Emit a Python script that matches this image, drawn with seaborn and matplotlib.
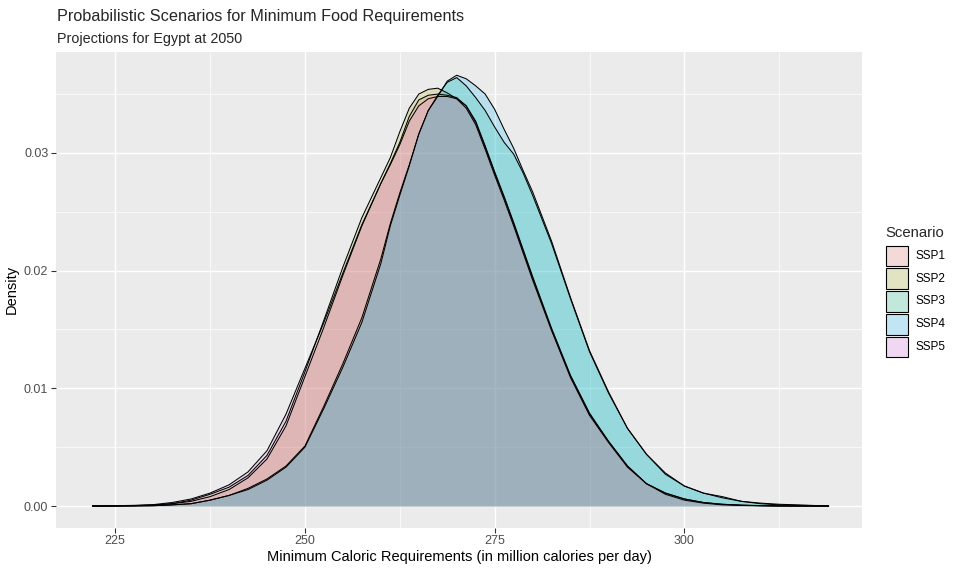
import numpy as np
import pandas as pd
import seaborn as sns
import matplotlib
matplotlib.use("Agg")
import matplotlib.pyplot as plt
from matplotlib.patches import Rectangle
from matplotlib.colors import to_rgb

# ---------------- data ----------------
scenarios = ["SSP1", "SSP2", "SSP3", "SSP4", "SSP5"]
colors = ["#F8766D", "#A3A500", "#00BF7D", "#00B0F6", "#E76BF3"]

x_grid = [222, 225, 227.5, 230, 232.5, 235, 237.5, 240, 242.5, 245,
          247.5, 250, 252.5, 255, 257.5, 260,
          261.25, 262.5, 263.75, 265, 266.25, 267.5, 268.75, 270,
          271.25, 272.5, 273.75, 275, 276.25, 277.5, 278.75, 280,
          282.5, 285, 287.5, 290, 292.5, 295, 297.5, 300, 302.5, 305,
          307.5, 310, 312.5, 315, 319]

ssp1 = [0, 0.00002, 0.00004, 0.00008, 0.0002, 0.0004, 0.0008, 0.0014, 0.0024, 0.0040,
        0.0068, 0.0110, 0.0152, 0.0196, 0.0238, 0.0274,
        0.0291, 0.0309, 0.0331, 0.0345, 0.0349, 0.0350, 0.0349, 0.0347,
        0.0340, 0.0326, 0.0305, 0.0283, 0.0262, 0.0240, 0.0217, 0.0194,
        0.0150, 0.0110, 0.0078, 0.0055, 0.0034, 0.0019, 0.0011, 0.0006, 0.0003, 0.00015,
        0.00008, 0.00004, 0.00001, 0, 0]
ssp2 = [0, 0.00001, 0.00003, 0.00008, 0.0002, 0.0005, 0.0010, 0.0016, 0.0026, 0.0043,
        0.0072, 0.0114, 0.0158, 0.0203, 0.0245, 0.0279,
        0.0296, 0.0318, 0.0338, 0.0350, 0.0354, 0.0355, 0.0351, 0.0346,
        0.0338, 0.0324, 0.0303, 0.0281, 0.0260, 0.0238, 0.0215, 0.0192,
        0.0149, 0.0109, 0.0077, 0.0054, 0.0033, 0.0019, 0.0011, 0.0006, 0.0003, 0.00015,
        0.00007, 0.00003, 0.00001, 0, 0]
ssp3 = [0, 0, 0.00001, 0.00003, 0.0001, 0.0002, 0.0005, 0.0009, 0.0015, 0.0023,
        0.0034, 0.0051, 0.0085, 0.0121, 0.0160, 0.0210,
        0.0240, 0.0266, 0.0290, 0.0316, 0.0336, 0.0349, 0.0360, 0.0364,
        0.0357, 0.0347, 0.0336, 0.0322, 0.0309, 0.0299, 0.0283, 0.0264,
        0.0223, 0.0176, 0.0131, 0.0096, 0.0066, 0.0044, 0.0027, 0.0017, 0.0011, 0.0007,
        0.0004, 0.0002, 0.0001, 0.00005, 0]
ssp4 = [0, 0, 0.00001, 0.00003, 0.0001, 0.0002, 0.0005, 0.0009, 0.0014, 0.0022,
        0.0033, 0.0050, 0.0083, 0.0118, 0.0156, 0.0206,
        0.0238, 0.0264, 0.0289, 0.0316, 0.0336, 0.0348, 0.0361, 0.0366,
        0.0363, 0.0357, 0.0350, 0.0337, 0.0320, 0.0304, 0.0285, 0.0267,
        0.0225, 0.0177, 0.0132, 0.0097, 0.0066, 0.0044, 0.0028, 0.0017, 0.0011, 0.0008,
        0.0004, 0.00025, 0.00015, 0.0001, 0]
ssp5 = [0, 0.00003, 0.00006, 0.00012, 0.0003, 0.0006, 0.0011, 0.0018, 0.0029, 0.0047,
        0.0078, 0.0117, 0.0156, 0.0198, 0.0239, 0.0274,
        0.0290, 0.0307, 0.0327, 0.0340, 0.0346, 0.0348, 0.0348, 0.0346,
        0.0340, 0.0327, 0.0306, 0.0284, 0.0263, 0.0241, 0.0218, 0.0195,
        0.0151, 0.0111, 0.0079, 0.0055, 0.0034, 0.0019, 0.0010, 0.0005, 0.00025, 0.0001,
        0.00005, 0.00002, 0, 0, 0]

x_ticks = [225, 250, 275, 300]
y_ticks = [0.00, 0.01, 0.02, 0.03]
y_tick_labels = ["0.00", "0.01", "0.02", "0.03"]

title = "Probabilistic Scenarios for Minimum Food Requirements"
subtitle = "Projections for Egypt at 2050"
x_label = "Minimum Caloric Requirements (in million calories per day)"
y_label = "Density"
legend_title = "Scenario"

series = [ssp1, ssp2, ssp3, ssp4, ssp5]
df = pd.concat([pd.DataFrame({"x": x_grid, "density": s, "Scenario": name})
                for name, s in zip(scenarios, series)], ignore_index=True)

# ---------------- style ----------------
sns.set_theme(style="darkgrid", rc={
    "axes.facecolor": "#EBEBEB",
    "grid.color": "white",
    "axes.edgecolor": "#EBEBEB",
})
plt.rcParams["font.family"] = ["Liberation Sans", "DejaVu Sans"]

W, H = 961, 573
fig = plt.figure(figsize=(W / 100, H / 100), dpi=100)
ax = fig.add_axes([56 / W, 1 - 527.7 / H, (862 - 56) / W, (527.7 - 51.7) / H])

alpha = 0.2
for name, col in zip(scenarios, colors):
    sub = df[df["Scenario"] == name]
    ax.fill_between(sub["x"], sub["density"], 0, color=col, alpha=alpha,
                    linewidth=0, zorder=2)
sns.lineplot(data=df, x="x", y="density", hue="Scenario",
             palette=["black"] * 5, linewidth=0.75, legend=False, ax=ax,
             zorder=3, sort=True, estimator=None)

ax.set_xlim(217.2, 323.4)
ax.set_ylim(-0.00184, 0.0386)
ax.set_xticks(x_ticks)
ax.set_yticks(y_ticks)
ax.set_yticklabels(y_tick_labels)
ax.set_xticks([237.5, 262.5, 287.5, 312.5], minor=True)
ax.set_yticks([0.005, 0.015, 0.025, 0.035], minor=True)
ax.grid(which="major", color="white", linewidth=1.05)
ax.grid(which="minor", color="white", linewidth=0.5)
ax.set_axisbelow(True)
for sp in ax.spines.values():
    sp.set_visible(False)
ax.tick_params(axis="both", which="major", length=3.5, width=0.8, color="#333333",
               labelcolor="#4D4D4D", labelsize=9, pad=2, bottom=True, left=True)
ax.tick_params(axis="both", which="minor", length=0)

ax.set_xlabel(x_label, fontsize=10.5, color="black", labelpad=2)
ax.set_ylabel(y_label, fontsize=10.5, color="black", labelpad=4)

fig.text(57 / W, 1 - 20.7 / H, title, fontsize=11.7, va="baseline", ha="left")
fig.text(57 / W, 1 - 42.7 / H, subtitle, fontsize=10.4, va="baseline", ha="left")

# ---------------- legend ----------------
fig.text(885.5 / W, 1 - 237 / H, legend_title, fontsize=10.7, va="baseline", ha="left")
key_bg = np.array(to_rgb("#F2F2F2"))
top0, step, kw, kh = 245.5, 22.85, 21.5, 20.5
for i, (name, col) in enumerate(zip(scenarios, colors)):
    fc = alpha * np.array(to_rgb(col)) + (1 - alpha) * key_bg
    y_top = top0 + i * step
    fig.add_artist(Rectangle((886 / W, 1 - (y_top + kh) / H), kw / W, kh / H,
                             transform=fig.transFigure, facecolor=fc,
                             edgecolor="black", linewidth=0.8))
    fig.text(915 / W, 1 - (y_top + kh / 2) / H, name, fontsize=8.5, va="center",
             ha="left", color="black")

fig.savefig("out.png", dpi=100, facecolor="white")
